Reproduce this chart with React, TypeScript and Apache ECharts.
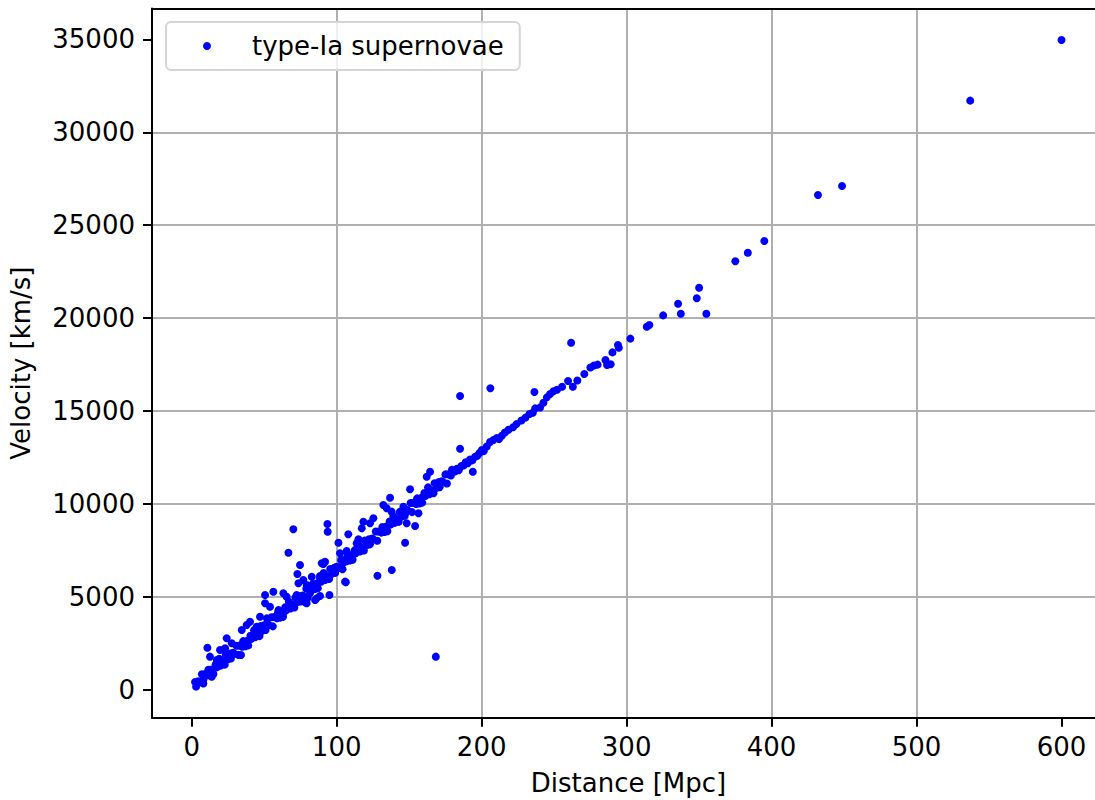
import React, { useEffect, useRef } from "react";
import * as echarts from "echarts";

const distanceTicks = [0, 100, 200, 300, 400, 500, 600];
const velocityTicks = [0, 5000, 10000, 15000, 20000, 25000, 30000, 35000];
const seriesName = "type-Ia supernovae";

// main band (distance Mpc, velocity km/s)
const bandPoints: [number, number][] = [
  [2.3, 428], [3.0, 180], [4.5, 472], [5.2, 418], [7.0, 845], [8.0, 352], [8.9, 849], [10.8, 786],
  [11.5, 1092], [13.0, 819], [14.3, 1116], [15.0, 863], [16.5, 1380], [17.2, 1216], [19.0, 1683], [20.0, 1310],
  [20.9, 1527], [22.8, 1364], [23.5, 1900], [25.0, 1657], [26.3, 1964], [27.0, 1691], [28.5, 2008], [29.2, 1954],
  [31.0, 2381], [32.0, 1888], [32.9, 2385], [34.8, 2322], [35.5, 2628], [37.0, 2355], [38.3, 2652], [39.0, 2399],
  [40.5, 2916], [41.2, 2752], [43.0, 3219], [44.0, 2846], [44.9, 3063], [46.8, 2900], [47.5, 3436], [49.0, 3193],
  [50.3, 3500], [51.0, 3227], [52.5, 3544], [53.2, 3490], [55.0, 3917], [56.0, 3424], [56.9, 3921], [58.8, 3858],
  [59.5, 4164], [61.0, 3891], [62.3, 4188], [63.0, 3935], [64.5, 4452], [65.2, 4288], [67.0, 4755], [68.0, 4382],
  [68.9, 4599], [70.8, 4436], [71.5, 4972], [73.0, 4729], [74.3, 5036], [75.0, 4763], [76.5, 5080], [77.2, 5026],
  [79.0, 5453], [80.0, 4960], [80.9, 5457], [82.8, 5394], [83.5, 5700], [85.0, 5427], [86.3, 5724], [87.0, 5471],
  [88.5, 5988], [89.2, 5824], [91.0, 6291], [92.0, 5918], [92.9, 6135], [94.8, 5972], [95.5, 6508], [97.0, 6265],
  [98.3, 6572], [99.0, 6299], [100.5, 6616], [101.2, 6562], [103.0, 6989], [104.0, 6496], [104.9, 6993], [106.8, 6930],
  [107.5, 7236], [109.0, 6963], [110.3, 7260], [111.0, 7007], [112.5, 7524], [113.2, 7360], [115.0, 7827], [116.0, 7454],
  [116.9, 7671], [118.8, 7508], [119.5, 8044], [121.0, 7801], [122.3, 8108], [123.0, 7835], [124.5, 8152], [125.2, 8098],
  [127.0, 8525], [128.0, 8032], [128.9, 8529], [130.8, 8466], [131.5, 8772], [133.0, 8499], [134.3, 8796], [135.0, 8543],
  [136.5, 9060], [137.2, 8896], [139.0, 9363], [140.0, 8990], [140.9, 9207], [142.8, 9044], [143.5, 9580], [145.0, 9337],
  [146.3, 9644], [147.0, 9371], [148.5, 9688], [149.2, 9634], [151.0, 10061], [152.0, 9568], [152.9, 10065], [154.8, 10002],
  [155.5, 10308], [157.0, 10035], [158.3, 10332], [159.0, 10079], [160.5, 10596], [161.2, 10432], [163.0, 10899], [164.0, 10526],
  [164.9, 10743], [166.8, 10580], [167.5, 11116], [169.0, 10873], [170.3, 11180], [171.0, 10907], [172.5, 11224], [173.2, 11170],
  [175.0, 11597], [176.0, 11104], [176.9, 11601], [178.8, 11538], [179.5, 11844],
  [181.5, 11750], [183.0, 11900], [184.2, 11820], [186.0, 12050], [187.5, 12080], [189.0, 12250], [190.5, 12200], [192.0, 12400],
  [193.5, 12350], [195.5, 12550], [197.0, 12600], [198.5, 12750], [200.1, 12910], [201.5, 12850], [203.5, 13100], [205.8, 13340],
  [208.1, 13448], [210.4, 13555], [212.0, 13500], [213.9, 13680], [216.0, 13850], [218.5, 14000], [221.7, 14130], [224.0, 14300],
  [227.4, 14500], [230.2, 14650], [233.0, 14850], [235.3, 14916], [236.9, 15146], [240.3, 15200], [242.6, 15455], [245.0, 15740],
  [247.2, 15920], [249.5, 16070], [252.0, 16150], [255.5, 16310], [259.6, 16620], [262.9, 16315], [266.0, 16650], [270.8, 17000],
  [275.0, 17350], [277.5, 17450], [280.0, 17500], [285.4, 17750], [286.5, 17480], [289.0, 17520], [290.2, 18160], [294.0, 18560],
  [294.6, 18410], [302.6, 18900], [313.9, 19540], [315.7, 19630], [325.2, 20150], [335.5, 20780], [337.4, 20240], [348.4, 21070],
  [350.0, 21640], [355.0, 20240], [375.0, 23060], [383.6, 23522], [395.0, 24150], [432.0, 26625], [448.6, 27110], [537.0, 31700],
  [600.0, 34960],
];

// scattered points off the band
const offBandPoints: [number, number][] = [
  [261.7, 18680], [236.4, 16030], [206.0, 16230], [185.1, 15814], [185.1, 12980], [193.9, 11742], [164.4, 11742], [162.1, 11473],
  [150.6, 10795], [136.8, 10345], [132.2, 9951], [134.5, 9774], [137.9, 9593], [146.0, 9860], [156.4, 9504], [148.3, 8966],
  [154.1, 8821], [147.2, 7923], [138.0, 6455], [128.1, 6148], [125.3, 9235], [123.0, 8966], [118.4, 9053], [117.3, 8697],
  [108.0, 8375], [115.0, 8106], [113.8, 7889], [101.2, 7923], [106.9, 7477], [102.3, 7351], [93.6, 8929], [93.8, 8515],
  [70.1, 8644], [66.7, 7386], [74.7, 6724], [72.9, 6240], [92.0, 6900], [89.7, 6813], [82.8, 6095], [77.0, 5917],
  [106.3, 5792], [95.0, 5110], [88.5, 5056], [85.1, 4841], [78.2, 4717], [50.6, 5110], [56.3, 5288], [63.2, 5200],
  [65.5, 5020], [50.6, 4663], [54.0, 4481], [59.9, 4303], [63.2, 4124], [47.1, 3943], [72.4, 5110], [81.6, 5200],
  [79.3, 4663], [86.2, 4930], [88.5, 6132], [79.3, 5648], [73.6, 5738], [105.8, 5828], [90.8, 6777], [100.0, 6632],
  [104.6, 6847], [40.2, 3674], [37.9, 3496], [34.5, 3227], [24.1, 2780], [27.6, 2512], [23.0, 2243], [44.8, 3405],
  [51.8, 3853], [34.0, 1883], [19.5, 2152], [10.8, 2276], [12.6, 1793], [17.3, 1614], [10.3, 882], [13.8, 716],
  [8.0, 538], [168.4, 1793],
];

export default function App() {
  const ref = useRef<HTMLDivElement>(null);
  useEffect(() => {
    if (!ref.current) return;
    const chart = echarts.init(ref.current, null, { renderer: "svg" });
    const font = "DejaVu Sans";
    const fs = 26;
    const xMin = -27.4;
    const xMax = 630;
    const yMin = -1490;
    const yMax = 36657;
    const axisLine = { show: true, onZero: false, lineStyle: { color: "#000", width: 2 } };
    const axisTick = { show: true, length: 9, lineStyle: { color: "#000", width: 2 } };
    const splitLine = { show: true, showMinLine: false, showMaxLine: false, lineStyle: { color: "#b0b0b0", width: 2 } };
    chart.setOption({
      animation: false,
      backgroundColor: "#fff",
      textStyle: { fontFamily: font },
      grid: { left: 152, top: 8.5, right: -10, bottom: 82.3, outerBoundsMode: "none", containLabel: false },
      legend: {
        show: true,
        left: 166,
        top: 22,
        orient: "horizontal",
        padding: [11, 16, 11, 37],
        backgroundColor: "rgba(255,255,255,0.8)",
        borderColor: "#d5d5d5",
        borderWidth: 2,
        borderRadius: 5,
        itemWidth: 16,
        itemHeight: 8,
        icon: "circle",
        data: [seriesName],
        textStyle: { fontFamily: font, fontSize: fs, color: "#000", padding: [0, 0, 0, 32] },
      },
      xAxis: [
        {
          type: "value",
          min: xMin,
          max: xMax,
          minInterval: 100,
          maxInterval: 100,
          position: "bottom",
          name: "Distance [Mpc]",
          nameLocation: "middle",
          nameGap: 52,
          nameTextStyle: { fontFamily: font, fontSize: fs, color: "#000" },
          axisLine,
          axisTick: { ...axisTick, customValues: distanceTicks },
          splitLine,
          axisLabel: {
            customValues: distanceTicks,
            margin: 16,
            fontFamily: font,
            fontSize: fs,
            color: "#000",
            formatter: (v: number) => String(v),
          },
        },
        {
          type: "value",
          min: xMin,
          max: xMax,
          position: "top",
          z: 5,
          axisLine: { show: true, onZero: false, lineStyle: { color: "#000", width: 2 } },
          axisTick: { show: false },
          axisLabel: { show: false },
          splitLine: { show: false },
        },
      ],
      yAxis: {
        type: "value",
        min: yMin,
        max: yMax,
        minInterval: 5000,
        maxInterval: 5000,
        position: "left",
        name: "Velocity [km/s]",
        nameLocation: "middle",
        nameGap: 118,
        nameRotate: 90,
        nameTextStyle: { fontFamily: font, fontSize: fs, color: "#000" },
        axisLine,
        axisTick: { ...axisTick, customValues: velocityTicks },
        splitLine,
        axisLabel: {
          customValues: velocityTicks,
          margin: 17,
          fontFamily: font,
          fontSize: fs,
          color: "#000",
          formatter: (v: number) => String(v),
        },
      },
      series: [
        {
          name: seriesName,
          type: "scatter",
          xAxisIndex: 0,
          symbol: "circle",
          symbolSize: 8,
          itemStyle: { color: "#0000ff", opacity: 1 },
          data: [...bandPoints, ...offBandPoints],
        },
      ],
    });
    return () => chart.dispose();
  }, []);
  return (
    <div
      ref={ref}
      style={{ position: "fixed", left: 0, top: 0, width: 1095, height: 800, background: "#fff" }}
    />
  );
}
